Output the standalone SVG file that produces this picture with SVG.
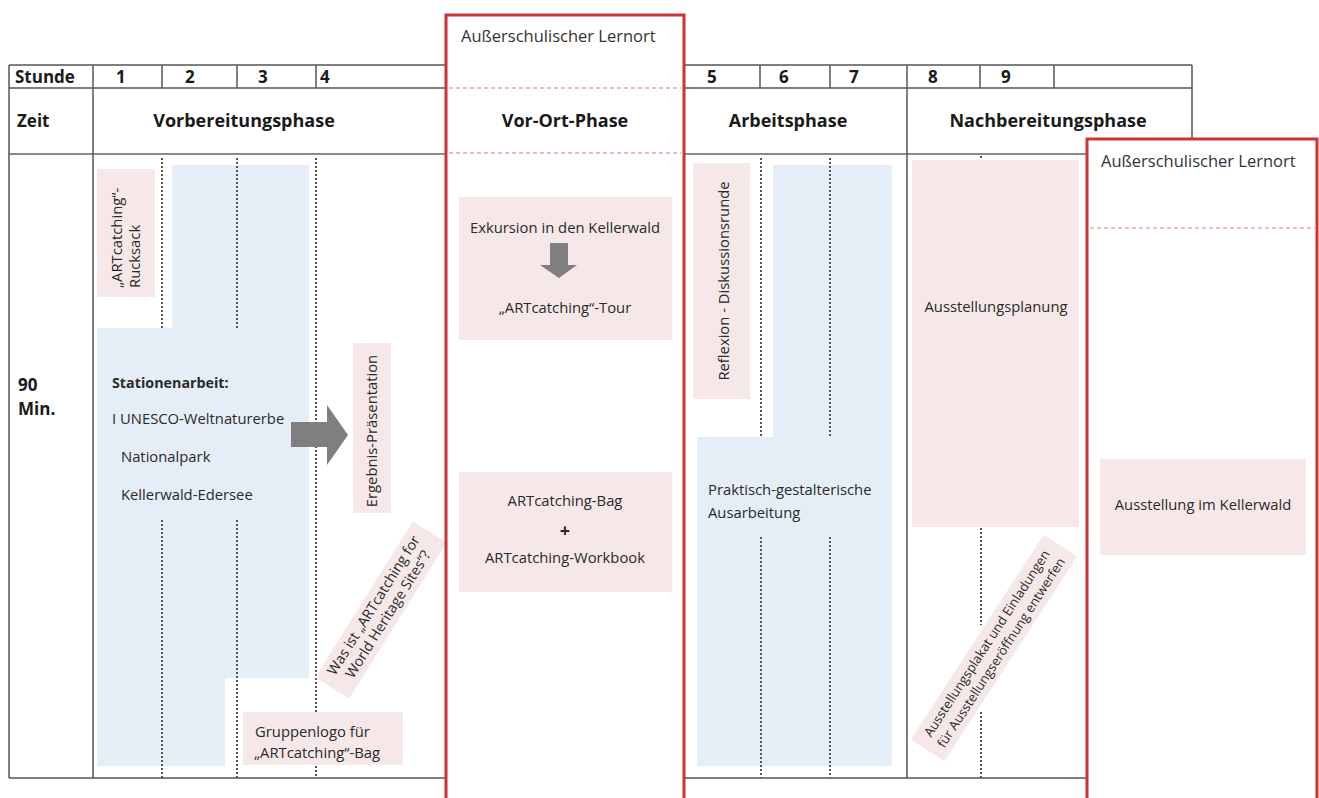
<svg xmlns="http://www.w3.org/2000/svg" width="1319" height="798" viewBox="0 0 1319 798">
<style>
  text { font-family: "Open Sans", "Liberation Sans", sans-serif; fill: #2a2a2a; }
  .hd { font-weight: bold; font-size: 17px; fill: #1a1a1a; }
  .ph { font-weight: bold; font-size: 18px; fill: #1a1a1a; text-anchor: middle; }
  .lern { font-size: 16.5px; fill: #333; }
  .t { font-size: 14.8px; }
  .tc { font-size: 14.8px; text-anchor: middle; }
  .grid { stroke: #555; stroke-width: 1.5; fill: none; }
  .gridl { stroke: #8a8a8a; stroke-width: 2; fill: none; }
  .dot { stroke: #555; stroke-width: 2; stroke-dasharray: 2 2; fill: none; }
  .red { stroke: #cc3333; stroke-width: 3; fill: none; }
  .reddash { stroke: #d08080; stroke-width: 1.2; stroke-dasharray: 4 3; fill: none; }
  .pink { fill: #f6e8e8; }
  .blue { fill: #e5edf6; }
  .arrow { fill: #7f7f7f; }
</style>

<g id="table">
  <path class="grid" d="M9 65 H446 M685 65 H1192 M9 88 H446 M685 88 H1192 M9 778 H446 M685 778 H1087"/>
  <path class="gridl" d="M9 154 H446 M685 154 H1087"/>
  <path class="grid" d="M9 65 V778 M93 65 V778 M162 65 V88 M237 65 V88 M316 65 V88 M760 65 V88 M830 65 V88 M907 65 V778 M980 65 V88 M1054 65 V88 M1192 65 V139"/>
  <text class="hd" x="15" y="83">Stunde</text>
  <text class="hd" x="116" y="83">1</text>
  <text class="hd" x="185" y="83">2</text>
  <text class="hd" x="258" y="83">3</text>
  <text class="hd" x="320" y="83">4</text>
  <text class="hd" x="707" y="83">5</text>
  <text class="hd" x="779" y="83">6</text>
  <text class="hd" x="849" y="83">7</text>
  <text class="hd" x="928" y="83">8</text>
  <text class="hd" x="1001" y="83">9</text>
  <text class="hd" x="17" y="127">Zeit</text>
  <text class="ph" x="244" y="127">Vorbereitungsphase</text>
  <text class="ph" x="788" y="127">Arbeitsphase</text>
  <text class="ph" x="1048" y="127">Nachbereitungsphase</text>
  <text class="hd" x="18" y="391">90</text>
  <text class="hd" x="18" y="415">Min.</text>
</g>

<g id="stationenarbeit">
  <polygon class="blue" points="172,165 309,165 309,678 225,678 225,766 97,766 97,328 172,328"/>
  <text class="t" x="112" y="388" style="font-weight:bold;font-size:14.3px">Stationenarbeit:</text>
  <text class="t" x="112" y="424">I UNESCO-Weltnaturerbe</text>
  <text class="t" x="121" y="462">Nationalpark</text>
  <text class="t" x="121" y="500">Kellerwald-Edersee</text>
</g>

<g id="praktisch">
  <polygon class="blue" points="773,165 892,165 892,766 697,766 697,437 773,437"/>
  <text class="t" x="708" y="495">Praktisch-gestalterische</text>
  <text class="t" x="708" y="518">Ausarbeitung</text>
</g>

<g id="dotted-lines">
  <path class="dot" d="M162 158 V330 M162 520 V778 M237 158 V330 M237 520 V778 M316 158 V778"/>
  <path class="dot" d="M761 158 V436 M761 537 V778 M830 158 V436 M830 537 V778"/>
  <path class="dot" d="M981 156 V293 M981 328 V625 M981 712 V778"/>
</g>

<g id="rucksack">
  <rect class="pink" x="97" y="169" width="58" height="128"/>
  <text class="t" transform="translate(122,288) rotate(-90)">„ARTcatching“-</text>
  <text class="t" transform="translate(140,288) rotate(-90)">Rucksack</text>
</g>

<g id="ergebnis">
  <rect class="pink" x="353" y="343" width="38" height="170"/>
  <text class="tc" transform="translate(377,431) rotate(-90)">Ergebnis-Präsentation</text>
</g>

<g id="wasist">
  <g transform="translate(381,610) rotate(-58)">
    <rect class="pink" x="-92" y="-20" width="184" height="40"/>
    <text class="tc" x="0" y="-4" style="font-size:14.3px">Was ist „ARTcatching for</text>
    <text class="tc" x="0" y="13" style="font-size:14.3px">World Heritage Sites“?</text>
  </g>
</g>

<g id="gruppenlogo">
  <rect class="pink" x="243" y="712" width="160" height="53"/>
  <text class="t" x="255" y="737">Gruppenlogo für</text>
  <text class="t" x="254" y="758">„ARTcatching“-Bag</text>
</g>

<g id="reflexion">
  <rect class="pink" x="693" y="163" width="57" height="236"/>
  <text class="tc" transform="translate(729,281) rotate(-90)">Reflexion - Diskussionsrunde</text>
</g>

<g id="ausstellungsplanung">
  <rect class="pink" x="912" y="160" width="167" height="367"/>
  <text class="tc" x="996" y="312">Ausstellungsplanung</text>
</g>

<g id="plakat">
  <g transform="translate(994,648) rotate(-57)">
    <rect class="pink" x="-122" y="-20" width="244" height="40"/>
    <text class="tc" x="0" y="-4" style="font-size:13px">Ausstellungsplakat und Einladungen</text>
    <text class="tc" x="0" y="13" style="font-size:13px">für Ausstellungseröffnung entwerfen</text>
  </g>
</g>

<g id="vor-ort">
  <rect class="red" x="446" y="15" width="238" height="800" style="fill:#fff"/>
  <path class="reddash" d="M449 88 H681 M449 153 H681"/>
  <text class="lern" x="461" y="42">Außerschulischer Lernort</text>
  <text class="ph" x="565" y="127">Vor-Ort-Phase</text>
  <rect class="pink" x="459" y="197" width="213" height="143"/>
  <text class="tc" x="565" y="233">Exkursion in den Kellerwald</text>
  <polygon class="arrow" points="550,243 568,243 568,265 577,265 559,278 540,265 550,265"/>
  <text class="tc" x="565" y="313">„ARTcatching“-Tour</text>
  <rect class="pink" x="459" y="472" width="213" height="120"/>
  <text class="tc" x="565" y="506">ARTcatching-Bag</text>
  <text class="tc" x="565" y="537" style="font-weight:bold;font-size:18px">+</text>
  <text class="tc" x="565" y="563">ARTcatching-Workbook</text>
</g>

<g id="ausstellung">
  <rect class="red" x="1087" y="139" width="230" height="700" style="fill:#fff"/>
  <path class="reddash" d="M1090 228 H1315"/>
  <text class="lern" x="1101" y="167">Außerschulischer Lernort</text>
  <rect class="pink" x="1100" y="459" width="206" height="96"/>
  <text class="tc" x="1203" y="510">Ausstellung im Kellerwald</text>
</g>

<g id="connectors">
  <polygon class="arrow" points="291,422 327,422 327,405 348,435 327,465 327,447 291,447"/>
</g>
</svg>
